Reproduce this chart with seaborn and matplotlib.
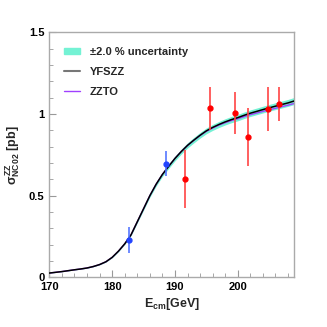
import matplotlib
matplotlib.use("Agg")
import matplotlib.pyplot as plt
import pandas as pd
import seaborn as sns
from matplotlib.lines import Line2D
from matplotlib.patches import Patch
from matplotlib.ticker import MultipleLocator

# theory curves
e_theory = [170, 172, 174, 175, 176, 177, 178, 179, 180, 181, 182, 183, 184, 185, 186,
            187, 188, 189, 190, 191, 192, 193, 194, 195, 196, 197, 198, 199, 200, 201,
            202, 203, 204, 205, 206, 207, 208, 209]
yfszz = [0.026, 0.035, 0.046, 0.051, 0.057, 0.066, 0.078, 0.095, 0.122, 0.16, 0.205,
         0.26, 0.34, 0.42, 0.5, 0.57, 0.63, 0.68, 0.728, 0.77, 0.808, 0.84, 0.87,
         0.897, 0.918, 0.936, 0.952, 0.966, 0.978, 0.992, 1.005, 1.016, 1.027, 1.038,
         1.048, 1.058, 1.068, 1.08]
zzto = [0.026, 0.035, 0.046, 0.051, 0.057, 0.066, 0.078, 0.095, 0.122, 0.16, 0.205,
        0.26, 0.34, 0.42, 0.5, 0.57, 0.63, 0.68, 0.728, 0.77, 0.807, 0.839, 0.868,
        0.894, 0.914, 0.932, 0.947, 0.96, 0.971, 0.984, 0.996, 1.006, 1.016, 1.026,
        1.035, 1.045, 1.054, 1.065]
band_frac = 0.02

# measurements
e_blue = [182.7, 188.6]
sig_blue = [0.231, 0.696]
err_blue = [0.08, 0.075]
e_red = [191.6, 195.5, 199.5, 201.6, 204.8, 206.5]
sig_red = [0.602, 1.035, 1.006, 0.859, 1.031, 1.063]
err_red = [0.18, 0.13, 0.13, 0.18, 0.133, 0.105]

sns.set_style("ticks")
plt.rcParams['font.family'] = ['Liberation Sans', 'DejaVu Sans']
plt.rcParams['font.weight'] = 'bold'
plt.rcParams['mathtext.fontset'] = 'custom'
plt.rcParams['mathtext.rm'] = 'Liberation Sans:bold'
plt.rcParams['mathtext.it'] = 'Liberation Sans:bold'
plt.rcParams['mathtext.bf'] = 'Liberation Sans:bold'

df = pd.DataFrame({"E": e_theory, "YFSZZ": yfszz, "ZZTO": zzto})

fig = plt.figure(figsize=(3.27, 3.27), dpi=100)
ax = fig.add_axes([0.151, 0.152, 0.749, 0.749])

ax.fill_between(df["E"], df["YFSZZ"] * (1 - band_frac), df["YFSZZ"] * (1 + band_frac),
                color="#74f2d4", lw=0, zorder=1)
sns.lineplot(data=df, x="E", y="ZZTO", ax=ax, color="#a040ff", lw=1.0, zorder=2)
sns.lineplot(data=df, x="E", y="YFSZZ", ax=ax, color="black", lw=1.1, zorder=3)

ax.errorbar(e_blue, sig_blue, yerr=err_blue, fmt="o", color="#2244ff", ecolor="#5577ff",
            ms=3.5, elinewidth=1.2, capsize=0, zorder=4)
ax.errorbar(e_red, sig_red, yerr=err_red, fmt="o", color="#ff0000", ecolor="#ff4444",
            ms=3.5, elinewidth=1.2, capsize=0, zorder=4)

ax.set_xlim(170, 209)
ax.set_ylim(0, 1.5)
ax.xaxis.set_minor_locator(MultipleLocator(2))
ax.yaxis.set_minor_locator(MultipleLocator(0.1))
ax.set_xticks([170, 180, 190, 200])
ax.set_xticklabels(["170", "180", "190", "200"])
ax.set_yticks([0, 0.5, 1, 1.5])
ax.set_yticklabels(["0", "0.5", "1", "1.5"])
ax.tick_params(which="both", direction="in", colors="#999999", labelcolor="black",
               labelsize=8, top=False, right=False)
ax.tick_params(which="major", length=5, width=0.8)
ax.tick_params(which="minor", length=3, width=0.6)
for s in ax.spines.values():
    s.set_color("#aaaaaa")
    s.set_linewidth(1.0)
    s.set_visible(True)

ax.set_xlabel(r"E$_{cm}$[GeV]", fontsize=9, fontweight="bold", labelpad=3)
ax.set_ylabel(r"$\sigma^{ZZ}_{NC02}$ [pb]", fontsize=9, fontweight="bold", labelpad=5)

handles = [Patch(color="#74f2d4"),
           Line2D([], [], color="#777777", lw=1.5),
           Line2D([], [], color="#a040ff", lw=1.0)]
ax.legend(handles, ["±2.0 % uncertainty", "YFSZZ", "ZZTO"], loc="upper left",
          bbox_to_anchor=(0.02, 0.98), frameon=False, fontsize=8,
          handlelength=1.4, handleheight=0.5, labelspacing=0.88, handletextpad=0.9)

fig.savefig("out.png", dpi=100)
